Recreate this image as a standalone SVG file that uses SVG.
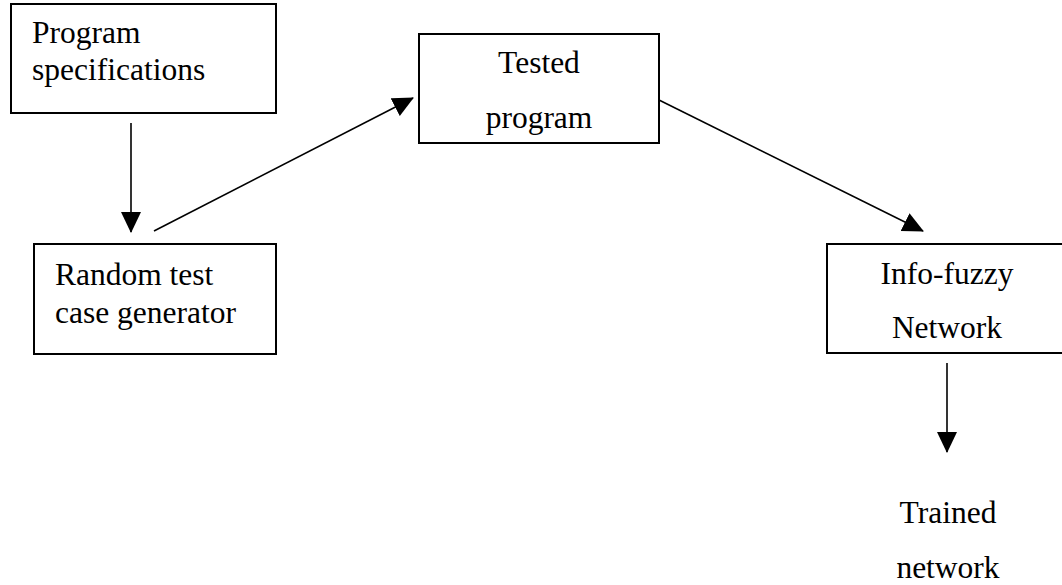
<svg xmlns="http://www.w3.org/2000/svg" width="1062" height="585" viewBox="0 0 1062 585">
<style>
.box{fill:#fff;stroke:#000;stroke-width:2}
.t{font-family:"Liberation Serif","Times New Roman",serif;font-size:31.5px;fill:#000}
.c{text-anchor:middle}
.edge{stroke:#000;stroke-width:1.6;fill:none;marker-end:url(#ah)}
</style>
<defs>
<marker id="ah" markerUnits="userSpaceOnUse" markerWidth="21" markerHeight="21" viewBox="0 0 21 20" refX="20" refY="10" orient="auto">
<path d="M0,0 L21,10 L0,20 Z" fill="#000"/>
</marker>
</defs>
<rect width="1062" height="585" fill="#fff"/>
<g id="node-spec">
<rect class="box" x="11" y="4" width="265" height="109"/>
<text class="t" x="32" y="43">Program</text>
<text class="t" x="32" y="80">specifications</text>
</g>
<g id="node-tested">
<rect class="box" x="419" y="34" width="240" height="109"/>
<text class="t c" x="539" y="73">Tested</text>
<text class="t c" x="539" y="128">program</text>
</g>
<g id="node-random">
<rect class="box" x="34" y="244" width="242" height="110"/>
<text class="t" x="55" y="285">Random test</text>
<text class="t" x="55" y="323">case generator</text>
</g>
<g id="node-ifn">
<rect class="box" x="827" y="244" width="245" height="109"/>
<text class="t c" x="947" y="284">Info-fuzzy</text>
<text class="t c" x="947" y="338">Network</text>
</g>
<g id="node-trained">
<text class="t c" x="948" y="523">Trained</text>
<text class="t c" x="948" y="578">network</text>
</g>
<g id="connectors">
<line class="edge" x1="131" y1="123" x2="131" y2="232"/>
<line class="edge" x1="154" y1="231" x2="413" y2="98"/>
<line class="edge" x1="659" y1="100" x2="923" y2="231"/>
<line class="edge" x1="947" y1="363" x2="947" y2="452"/>
</g>
</svg>
